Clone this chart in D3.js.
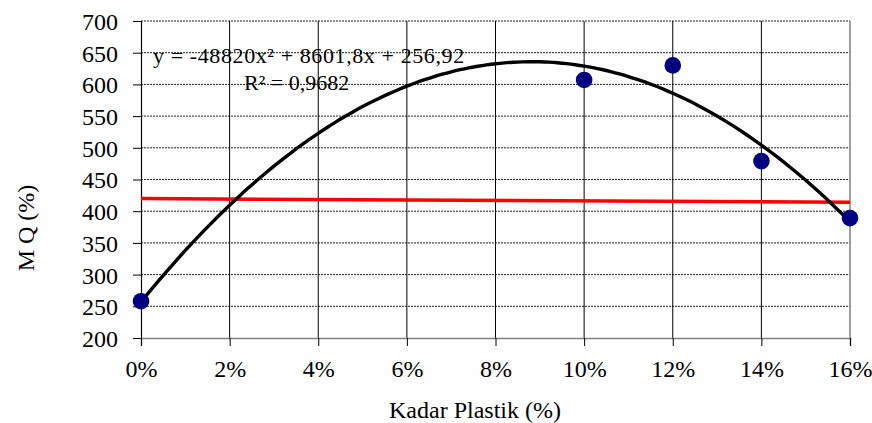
<!DOCTYPE html>
<html>
<head>
<meta charset="utf-8">
<script src="https://cdn.jsdelivr.net/npm/d3@7"></script>
<style>
  body { margin: 0; background: #fff; }
  text { font-family: "Liberation Serif", "Times New Roman", serif; fill: #000; }
</style>
</head>
<body>
<svg id="chart" width="872" height="423"></svg>
<script>
// data
var kadar = [0, 0.10, 0.12, 0.14, 0.16];
var mq = [258, 607, 630, 479, 389];
// trendline shown on the chart: y = a x^2 + b x + c
var trendCoef = [-48820, 8601.8, 256.92];
var redX = [0, 0.16];
var redY = [420, 414];
var xTicks = [0, 0.02, 0.04, 0.06, 0.08, 0.10, 0.12, 0.14, 0.16];
var yTicks = [200, 250, 300, 350, 400, 450, 500, 550, 600, 650, 700];

var svg = d3.select("#chart");
var margin = {top: 21, left: 141, right: 22, bottom: 85};
var width = 872 - margin.left - margin.right,
    height = 423 - margin.top - margin.bottom;

var x = d3.scaleLinear().domain([0, 0.16]).range([0, width]);
var y = d3.scaleLinear().domain([200, 700]).range([height, 0]);

var g = svg.append("g").attr("transform", "translate(" + margin.left + "," + margin.top + ")");

// horizontal dashed grid
g.selectAll(".hgrid").data(yTicks.slice(1))
  .enter().append("line")
  .attr("x1", 0).attr("x2", width)
  .attr("y1", function(d) { return y(d); }).attr("y2", function(d) { return y(d); })
  .attr("stroke", "#222").attr("stroke-width", 1).attr("stroke-dasharray", "2,1");

// vertical grid (solid)
g.selectAll(".vgrid").data(xTicks.slice(1, -1))
  .enter().append("line")
  .attr("x1", function(d) { return x(d); }).attr("x2", function(d) { return x(d); })
  .attr("y1", 0).attr("y2", height)
  .attr("stroke", "#000").attr("stroke-width", 1);

// right border gray
g.append("line").attr("x1", width).attr("x2", width).attr("y1", 0).attr("y2", height)
  .attr("stroke", "#808080").attr("stroke-width", 1.5);

// axes
var yAxis = d3.axisLeft(y).tickValues(yTicks).tickSize(8).tickPadding(15).tickFormat(d3.format("d"));
var yg = g.append("g").call(yAxis);
yg.select(".domain").attr("stroke", "#000").attr("stroke-width", 1.2);
yg.selectAll(".tick line").attr("stroke", "#000");
yg.selectAll("text").style("font-size", "24px").attr("dy", "0.35em");

var xAxis = d3.axisBottom(x).tickValues(xTicks).tickSize(8).tickPadding(14).tickFormat(d3.format(".0%"));
var xg = g.append("g").attr("transform", "translate(0," + height + ")").call(xAxis);
xg.select(".domain").attr("stroke", "#808080").attr("stroke-width", 1.5);
xg.selectAll(".tick line").attr("stroke", "#000");
xg.selectAll("text").style("font-size", "24px");

// red line
var redData = redX.map(function(v, i) { return [v, redY[i]]; });
g.append("path").datum(redData)
  .attr("fill", "none").attr("stroke", "#ff0000").attr("stroke-width", 3.5)
  .attr("d", d3.line().x(function(d) { return x(d[0]); }).y(function(d) { return y(d[1]); }));

// polynomial trendline
var trendData = x.ticks(80).map(function(v) {
  return [v, trendCoef[0] * v * v + trendCoef[1] * v + trendCoef[2]];
});
g.append("path").datum(trendData)
  .attr("fill", "none").attr("stroke", "#000").attr("stroke-width", 3.4)
  .attr("d", d3.line().x(function(d) { return x(d[0]); }).y(function(d) { return y(d[1]); }).curve(d3.curveMonotoneX));

// points
g.selectAll(".pt").data(kadar)
  .enter().append("circle")
  .attr("cx", function(d) { return x(d); })
  .attr("cy", function(d, i) { return y(mq[i]); })
  .attr("r", 8.3)
  .attr("fill", "#000080");

// equation text
svg.append("text").attr("x", 153).attr("y", 63).style("font-size", "22px")
  .style("letter-spacing", "0.6px")
  .text("y = -48820x² + 8601,8x + 256,92");
svg.append("text").attr("x", 244).attr("y", 90).style("font-size", "22px")
  .text("R² = 0,9682");

// axis titles
svg.append("text").attr("x", 475).attr("y", 418).attr("text-anchor", "middle")
  .style("font-size", "24px").text("Kadar Plastik (%)");
svg.append("text").attr("transform", "translate(34,228) rotate(-90)").attr("text-anchor", "middle")
  .style("font-size", "24px").text("M Q (%)");
</script>
</body>
</html>
